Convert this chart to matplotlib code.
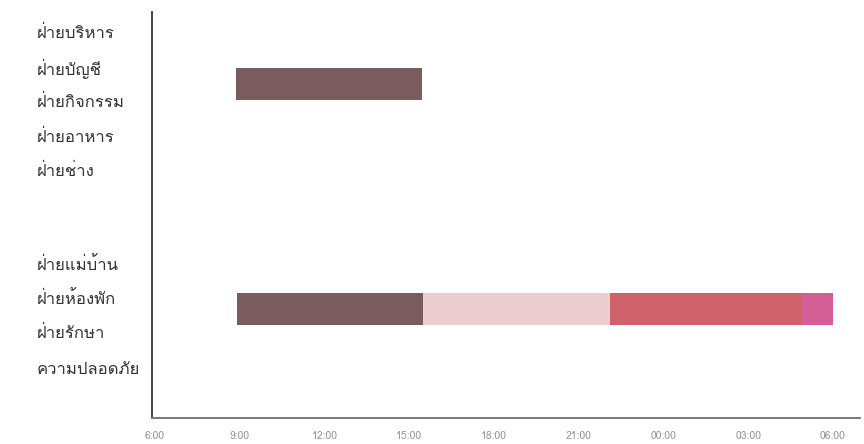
import matplotlib
matplotlib.use("Agg")
import matplotlib.pyplot as plt
from matplotlib import font_manager
from matplotlib.ft2font import FT2Font

# ---- data -------------------------------------------------------------
departments = ["ฝ่ายบริหาร", "ฝ่ายบัญชี", "ฝ่ายกิจกรรม", "ฝ่ายอาหาร", "ฝ่ายช่าง",
               "ฝ่ายแม่บ้าน", "ฝ่ายห้องพัก", "ฝ่ายรักษา", "ความปลอดภัย"]

hour_ticks = [6, 9, 12, 15, 18, 21, 24, 27, 30]
hour_labels = ["6:00", "9:00", "12:00", "15:00", "18:00", "21:00", "00:00", "03:00", "06:00"]

# upper schedule bar (start hour, end hour)
upper_start = [8.85]
upper_end = [15.45]

# lower schedule bar, consecutive shifts (hours past midnight, >24 = next day)
lower_start = [8.9, 15.5, 22.1, 28.9]
lower_end = [15.5, 22.1, 28.9, 30.0]

# ---- styling / layout ---------------------------------------------------
upper_colors = ["#7a5b5e"]
lower_colors = ["#7a5b5e", "#ecced1", "#cf616a", "#d35f96"]
label_rows = [0, 1, 2, 3, 4, 6.7, 7.7, 8.7, 9.75]
upper_row = 1.51
lower_row = 8.03
bar_h = 0.93


def thai_family():
    seen = set()
    for f in font_manager.fontManager.ttflist:
        if f.name in seen:
            continue
        seen.add(f.name)
        try:
            cmap = FT2Font(f.fname).get_charmap()
        except Exception:
            continue
        if ord("ก") in cmap and ord("ญ") in cmap:
            return f.name
    return None


fam = thai_family()
families = ([fam] if fam else []) + ["DejaVu Sans"]
plt.rcParams["font.family"] = families

fig = plt.figure(figsize=(8.64, 4.44), dpi=100)
ax = fig.add_axes([152 / 864, 1 - 418 / 444, 708 / 864, 406 / 444])

ax.barh([upper_row] * len(upper_start),
        [e - s for s, e in zip(upper_start, upper_end)],
        left=upper_start, height=bar_h, color=upper_colors, edgecolor="none")
ax.barh([lower_row] * len(lower_start),
        [e - s for s, e in zip(lower_start, lower_end)],
        left=lower_start, height=bar_h, color=lower_colors, edgecolor="none")

x0 = 6 - 3 / 28.25
ax.set_xlim(x0, x0 + 708 / 28.25)
ax.set_ylim(11.19, -0.58)

ax.set_xticks(hour_ticks)
ax.set_xticklabels(hour_labels, fontsize=7.5, color="#949494")
ax.tick_params(axis="x", length=0, pad=9)

ax.set_yticks(label_rows)
ax.set_yticklabels(departments, fontsize=12, color="#333333")
ax.tick_params(axis="y", length=0, pad=83)
for t in ax.get_yticklabels():
    t.set_horizontalalignment("left")

for side in ("top", "right"):
    ax.spines[side].set_visible(False)
ax.spines["left"].set_color("#444444")
ax.spines["left"].set_linewidth(1.4)
ax.spines["bottom"].set_color("#7a7a7a")
ax.spines["bottom"].set_linewidth(1.4)

fig.savefig("out.png", dpi=100)
